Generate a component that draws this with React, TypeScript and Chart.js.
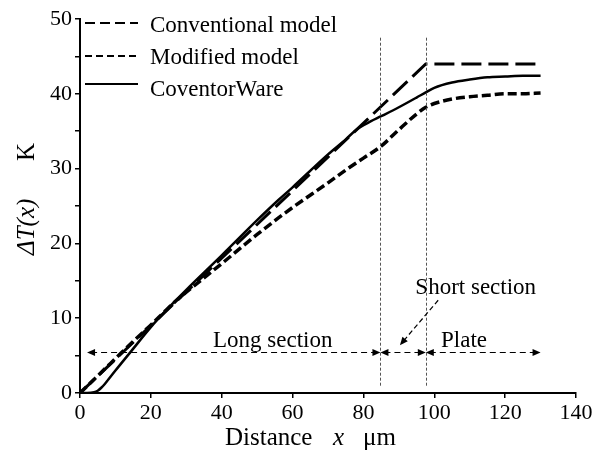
import React, { useEffect, useRef } from "react";
import { Chart, registerables } from "chart.js";

Chart.register(...registerables);

// ---- data ----
const conventionalX = [0, 97.6, 130];
const conventionalY = [0, 44, 44];

const modifiedX = [0, 5, 10, 15, 20, 25, 28, 35, 40, 50, 56, 60, 70, 75, 80, 85, 90, 95, 97.6, 100, 105, 110, 115, 120, 125, 130];
const modifiedY = [0, 2.3, 4.6, 6.9, 9.1, 11.4, 12.7, 15.4, 17.3, 21.2, 23.4, 24.8, 28.1, 29.8, 31.4, 33.0, 35.2, 37.3, 38.2, 38.7, 39.3, 39.6, 39.8, 40.0, 40.0, 40.1];

const coventorX = [0, 2, 4, 5, 6, 7, 8, 10, 14.3, 20, 25, 30, 40, 50, 56, 60, 70, 75, 78, 82, 85, 90, 95, 97.6, 100, 105, 110, 115, 120, 125, 130];
const coventorY = [0, 0, 0.1, 0.3, 0.7, 1.2, 1.8, 3.0, 5.5, 8.8, 11.4, 13.8, 18.4, 23.1, 25.8, 27.5, 31.9, 33.9, 35.2, 36.3, 37.0, 38.2, 39.5, 40.2, 40.8, 41.5, 41.9, 42.2, 42.3, 42.4, 42.4];

const legendLabels = ["Conventional model", "Modified model", "CoventorWare"];
const xRange = [0, 140];
const yRange = [0, 50];
const xStep = 20;
const yStep = 5;
const yLabelStep = 10;

// section boundaries (x, µm) and labels
const sectionStartX = 2;
const sectionBounds = [84.8, 97.6];
const plateEndX = 130;
const sectionArrowY = 5.5;
const dividerRange = [0.8, 47.5];
const sectionLabels = ["Long section", "Short section", "Plate"];
const sectionLabelX = [54.4, 111.7, 108.4];
const sectionLabelY = [6.2, 13.3, 6.2];
const shortPointerFrom = [101.1, 12.4];
const shortPointerTo = [90.3, 6.4];

const xTitle = ["Distance", "x", "μm"];
const yTitle = ["ΔT(x)", "K"];

const SERIF = '"Liberation Serif", "Times New Roman", serif';

function toPts(xs: number[], ys: number[]) {
  return xs.map((x, i) => ({ x, y: ys[i] }));
}

function arrowHead(ctx: CanvasRenderingContext2D, x: number, y: number, angle: number) {
  const len = 8;
  const half = 3.5;
  ctx.save();
  ctx.translate(x, y);
  ctx.rotate(angle);
  ctx.setLineDash([]);
  ctx.beginPath();
  ctx.moveTo(0, 0);
  ctx.lineTo(-len, -half);
  ctx.lineTo(-len, half);
  ctx.closePath();
  ctx.fill();
  ctx.restore();
}

const annotationPlugin = {
  id: "annotations",
  afterDatasetsDraw(chart: any) {
    const ctx: CanvasRenderingContext2D = chart.ctx;
    const xs = chart.scales.x;
    const ys = chart.scales.y;
    ctx.save();
    // vertical dotted dividers
    ctx.strokeStyle = "#555";
    ctx.lineWidth = 1;
    ctx.setLineDash([3, 2]);
    sectionBounds.forEach((b) => {
      const px = Math.round(xs.getPixelForValue(b)) + 0.5;
      ctx.beginPath();
      ctx.moveTo(px, ys.getPixelForValue(dividerRange[1]));
      ctx.lineTo(px, ys.getPixelForValue(dividerRange[0]));
      ctx.stroke();
    });

    // dashed section arrows
    ctx.strokeStyle = "#000";
    ctx.fillStyle = "#000";
    ctx.lineWidth = 1.2;
    const ay = Math.round(ys.getPixelForValue(sectionArrowY)) + 0.5;
    const segs = [
      [sectionStartX, sectionBounds[0]],
      [sectionBounds[0], sectionBounds[1]],
      [sectionBounds[1], plateEndX],
    ];
    segs.forEach(([a, b]) => {
      const pa = xs.getPixelForValue(a);
      const pb = xs.getPixelForValue(b);
      ctx.setLineDash([6, 4]);
      ctx.beginPath();
      ctx.moveTo(pa + 4, ay);
      ctx.lineTo(pb - 4, ay);
      ctx.stroke();
      arrowHead(ctx, pa, ay, Math.PI);
      arrowHead(ctx, pb, ay, 0);
    });

    // short section pointer
    const fx = xs.getPixelForValue(shortPointerFrom[0]);
    const fy = ys.getPixelForValue(shortPointerFrom[1]);
    const tx = xs.getPixelForValue(shortPointerTo[0]);
    const ty = ys.getPixelForValue(shortPointerTo[1]);
    const ang = Math.atan2(ty - fy, tx - fx);
    ctx.setLineDash([5, 3]);
    ctx.beginPath();
    ctx.moveTo(fx, fy);
    ctx.lineTo(tx - 4 * Math.cos(ang), ty - 4 * Math.sin(ang));
    ctx.stroke();
    arrowHead(ctx, tx, ty, ang);

    // section labels
    ctx.setLineDash([]);
    ctx.font = `23px ${SERIF}`;
    ctx.textAlign = "center";
    ctx.textBaseline = "alphabetic";
    sectionLabels.forEach((t, i) => {
      ctx.fillText(t, xs.getPixelForValue(sectionLabelX[i]), ys.getPixelForValue(sectionLabelY[i]));
    });
    ctx.restore();
  },
  afterDraw(chart: any) {
    const ctx: CanvasRenderingContext2D = chart.ctx;
    const area = chart.chartArea;
    ctx.save();
    ctx.fillStyle = "#000";
    ctx.strokeStyle = "#000";

    // legend
    const lx0 = area.left + 5;
    const lx1 = area.left + 58;
    const tx = area.left + 70;
    const lineYs = [area.top + 4, area.top + 37, area.top + 65];
    const textYs = [area.top + 13, area.top + 45, area.top + 77];
    const dashes = [[10, 5], [7, 4], []];
    const widths = [2.2, 2, 2];
    ctx.font = `23px ${SERIF}`;
    ctx.textAlign = "left";
    ctx.textBaseline = "alphabetic";
    legendLabels.forEach((lab, i) => {
      ctx.setLineDash(dashes[i]);
      ctx.lineWidth = widths[i];
      ctx.beginPath();
      ctx.moveTo(lx0, lineYs[i]);
      ctx.lineTo(lx1, lineYs[i]);
      ctx.stroke();
      ctx.setLineDash([]);
      ctx.fillText(lab, tx, textYs[i]);
    });

    // x title
    const by = area.bottom + 52;
    ctx.font = `25px ${SERIF}`;
    ctx.fillText(xTitle[0], area.left + 145, by);
    ctx.font = `italic 25px ${SERIF}`;
    ctx.fillText(xTitle[1], area.left + 253, by);
    ctx.font = `25px ${SERIF}`;
    ctx.fillText(xTitle[2], area.left + 283, by);

    // y title (rotated)
    ctx.translate(area.left - 53, area.top + 236);
    ctx.rotate(-Math.PI / 2);
    ctx.textBaseline = "middle";
    ctx.font = `italic 25px ${SERIF}`;
    ctx.fillText(yTitle[0], 0, 0);
    ctx.font = `25px ${SERIF}`;
    ctx.fillText(yTitle[1], 94, 0);
    ctx.restore();
  },
};

export default function App() {
  const ref = useRef<HTMLCanvasElement | null>(null);
  useEffect(() => {
    if (!ref.current) return;
    const chart = new Chart(ref.current, {
      type: "line",
      data: {
        datasets: [
          {
            label: legendLabels[0],
            data: toPts(conventionalX, conventionalY),
            borderColor: "#000",
            borderWidth: 3,
            borderDash: [20, 7],
            pointRadius: 0,
            fill: false,
            tension: 0,
          },
          {
            label: legendLabels[1],
            data: toPts(modifiedX, modifiedY),
            borderColor: "#000",
            borderWidth: 3.5,
            borderDash: [9, 4],
            pointRadius: 0,
            fill: false,
            cubicInterpolationMode: "monotone",
          },
          {
            label: legendLabels[2],
            data: toPts(coventorX, coventorY),
            borderColor: "#000",
            borderWidth: 2.5,
            pointRadius: 0,
            fill: false,
            cubicInterpolationMode: "monotone",
          },
        ],
      },
      options: {
        animation: false,
        responsive: false,
        maintainAspectRatio: false,
        layout: { padding: { top: 19, right: 30, left: 0, bottom: 0 } },
        plugins: { legend: { display: false }, tooltip: { enabled: false } },
        scales: {
          x: {
            type: "linear",
            min: xRange[0],
            max: xRange[1],
            afterFit: (s: any) => {
              s.height = 68;
            },
            ticks: {
              stepSize: xStep,
              color: "#000",
              padding: 2,
              maxRotation: 0,
              font: { family: SERIF, size: 22 },
            },
            grid: { display: true, drawOnChartArea: false, drawTicks: true, tickLength: 5, color: "#000", lineWidth: 1.5 },
            border: { display: true, color: "#000", width: 2 },
          },
          y: {
            type: "linear",
            min: yRange[0],
            max: yRange[1],
            afterFit: (s: any) => {
              s.width = 80;
            },
            ticks: {
              stepSize: yStep,
              color: "#000",
              padding: 3,
              font: { family: SERIF, size: 22 },
              callback: (v: any) => (Number(v) % yLabelStep === 0 ? String(v) : ""),
            },
            grid: { display: true, drawOnChartArea: false, drawTicks: true, tickLength: 5, color: "#000", lineWidth: 1.5 },
            border: { display: true, color: "#000", width: 2 },
          },
        },
      },
      plugins: [annotationPlugin],
    } as any);
    return () => chart.destroy();
  }, []);
  return (
    <div style={{ position: "fixed", left: 0, top: 0, width: 606, height: 461, background: "#fff" }}>
      <canvas ref={ref} width={606} height={461} style={{ width: 606, height: 461, display: "block" }} />
    </div>
  );
}
